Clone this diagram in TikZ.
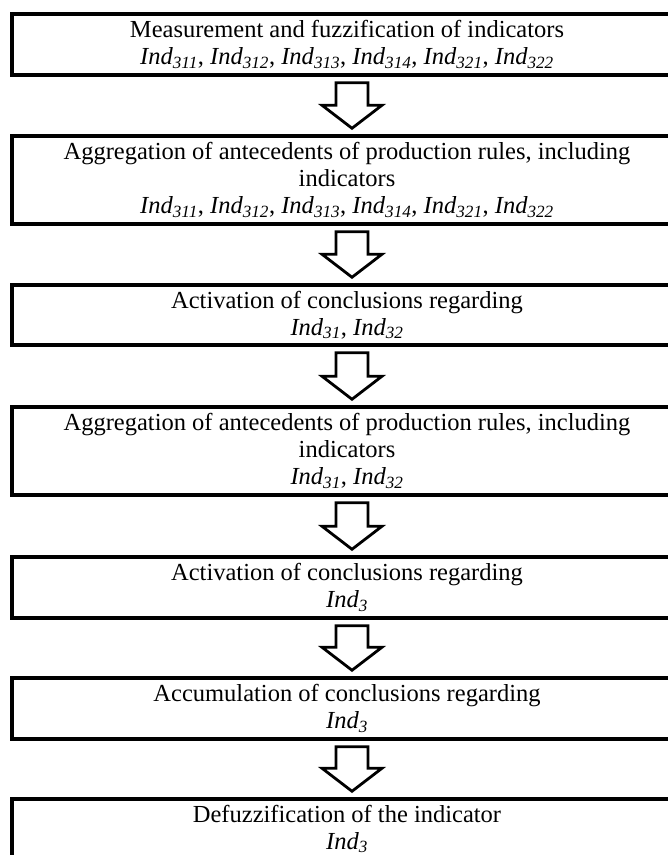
\documentclass[tikz,border=0pt]{standalone}
\usepackage{fontspec}
\setmainfont{Liberation Serif}
\usetikzlibrary{calc}
\tikzset{
  stage/.style={draw=black, line width=3.5pt, minimum width=670pt, align=center,
    inner sep=0pt, font=\fontsize{24.5}{27}\selectfont},
  blockarrow/.style={draw=black, line width=2.8pt, fill=white, line join=miter},
}
\newcommand{\Ind}[1]{\textit{Ind}\textsubscript{\textit{#1}}}
\newcommand{\stagearrow}[2]{%
  \draw[blockarrow] let \p1=(#1.south), \p2=(#2.north) in
    (352pt-16pt,\y1-6pt) -- (352pt+16pt,\y1-6pt) -- (352pt+16pt,\y2+29pt)
    -- (352pt+30pt,\y2+29pt) -- (352pt,\y2+6pt) -- (352pt-30pt,\y2+29pt)
    -- (352pt-16pt,\y2+29pt) -- cycle;}
\begin{document}
\begin{tikzpicture}[x=1pt,y=-1pt]
\useasboundingbox (0,0) rectangle (668,855);
\clip (0,0) rectangle (668,855);
\fill[white] (0,0) rectangle (668,855);
\node[stage, minimum height=61pt] (b1) at (347,44.5)
  {Measurement and fuzzification of indicators\\
   \Ind{311}, \Ind{312}, \Ind{313}, \Ind{314}, \Ind{321}, \Ind{322}};
\node[stage, minimum height=88pt] (b2) at (347,180)
  {Aggregation of antecedents of production rules, including\\ indicators\\
   \Ind{311}, \Ind{312}, \Ind{313}, \Ind{314}, \Ind{321}, \Ind{322}};
\node[stage, minimum height=60pt] (b3) at (347,315)
  {Activation of conclusions regarding\\ \Ind{31}, \Ind{32}};
\node[stage, minimum height=88pt] (b4) at (347,451)
  {Aggregation of antecedents of production rules, including\\ indicators\\
   \Ind{31}, \Ind{32}};
\node[stage, minimum height=61pt] (b5) at (347,587.5)
  {Activation of conclusions regarding\\ \Ind{3}};
\node[stage, minimum height=61pt] (b6) at (347,708.5)
  {Accumulation of conclusions regarding\\ \Ind{3}};
\node[stage, minimum height=60pt] (b7) at (347,829)
  {Defuzzification of the indicator\\ \Ind{3}};
\stagearrow{b1}{b2}
\stagearrow{b2}{b3}
\stagearrow{b3}{b4}
\stagearrow{b4}{b5}
\stagearrow{b5}{b6}
\stagearrow{b6}{b7}
\end{tikzpicture}
\end{document}
